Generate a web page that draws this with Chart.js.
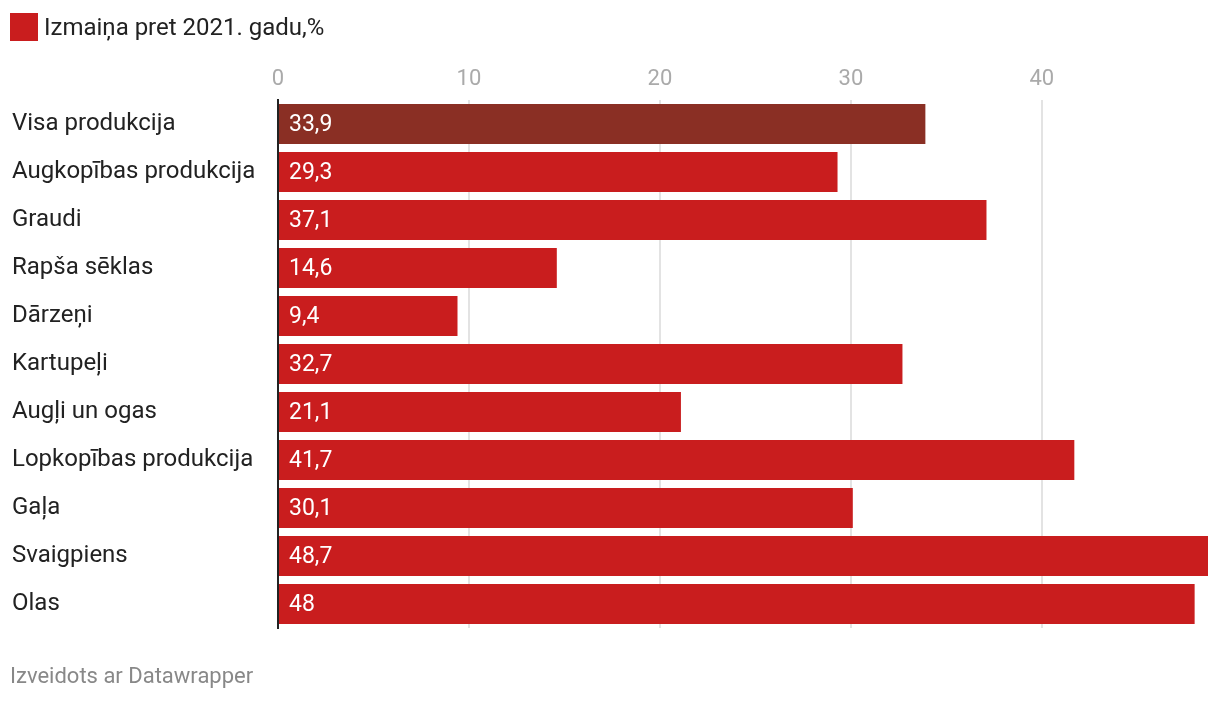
<!DOCTYPE html>
<html>
<head>
<meta charset="utf-8">
<script src="https://cdn.jsdelivr.net/npm/chart.js@4"></script>
<style>
  html, body { margin: 0; padding: 0; background: #fff; }
  body { width: 1220px; height: 702px; position: relative; overflow: hidden; font-family: Roboto, sans-serif; }
  #wrap { position: absolute; left: 0; top: 0; width: 1220px; height: 702px; }
  #legend { position: absolute; left: 10px; top: 13px; height: 28px; display: flex; align-items: center; font-size: 24px; color: #222; }
  #legend .sw { width: 28px; height: 28px; background: #c91d1e; margin-right: 6px; flex: none; }
  #footer { position: absolute; left: 10px; top: 662px; font-size: 22px; line-height: 28px; color: #888; }
</style>
</head>
<body>
<div id="wrap"><canvas id="c" width="1220" height="702"></canvas></div>
<div id="legend"><div class="sw"></div><span>Izmaiņa pret 2021. gadu,%</span></div>
<div id="footer">Izveidots ar Datawrapper</div>
<script>
const categories = ["Visa produkcija", "Augkopības produkcija", "Graudi", "Rapša sēklas", "Dārzeņi", "Kartupeļi", "Augļi un ogas", "Lopkopības produkcija", "Gaļa", "Svaigpiens", "Olas"];
const values = [33.9, 29.3, 37.1, 14.6, 9.4, 32.7, 21.1, 41.7, 30.1, 48.7, 48];
const xTicks = [0, 10, 20, 30, 40];
const seriesLabel = "Izmaiņa pret 2021. gadu,%";

const barColors = values.map((v, i) => i === 0 ? "#8a2f24" : "#c91d1e");

const valueLabels = {
  id: "valueLabels",
  afterDatasetsDraw(chart) {
    const ctx = chart.ctx;
    const meta = chart.getDatasetMeta(0);
    ctx.save();
    ctx.font = "23px Roboto";
    ctx.fillStyle = "#fff";
    ctx.textBaseline = "middle";
    ctx.textAlign = "left";
    meta.data.forEach((bar, i) => {
      const txt = String(values[i]).replace(".", ",");
      ctx.fillText(txt, bar.base + 10, bar.y + 1);
    });
    ctx.restore();
  }
};

new Chart(document.getElementById("c"), {
  type: "bar",
  data: {
    labels: categories,
    datasets: [{
      label: seriesLabel,
      data: values,
      backgroundColor: barColors,
      barPercentage: 40 / 48,
      categoryPercentage: 1.0
    }]
  },
  options: {
    indexAxis: "y",
    responsive: false,
    animation: false,
    devicePixelRatio: 1,
    layout: { padding: { left: 12, right: 12, top: 60, bottom: 74 } },
    plugins: { legend: { display: false }, tooltip: { enabled: false } },
    scales: {
      x: {
        position: "top",
        min: 0,
        max: 48.7,
        afterBuildTicks(scale) { scale.ticks = xTicks.map(v => ({ value: v })); },
        afterFit(scale) { scale.height = 40; },
        grid: { color: "#e3e3e3", lineWidth: 2, drawTicks: false },
        border: { display: false },
        ticks: { color: "#aaa", font: { family: "Roboto", size: 22 }, padding: 7 }
      },
      y: {
        afterFit(scale) { scale.width = 266; },
        grid: { display: false, drawTicks: false },
        border: { display: true, color: "#222", width: 2 },
        ticks: { color: "#222", font: { family: "Roboto", size: 24 }, crossAlign: "far", padding: 0 }
      }
    }
  },
  plugins: [valueLabels]
});
</script>
</body>
</html>
